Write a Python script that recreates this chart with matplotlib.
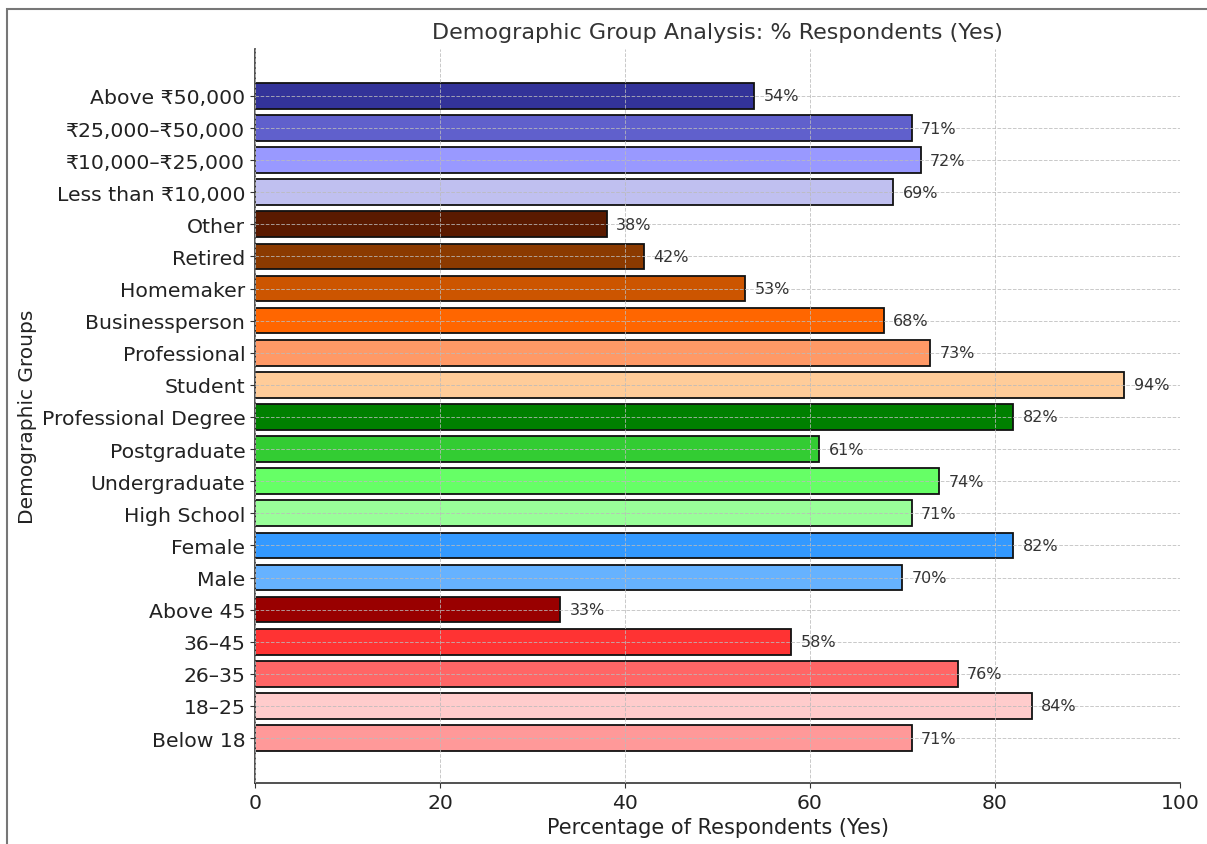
import matplotlib.pyplot as plt
from matplotlib.patches import Rectangle

# Groups listed bottom to top (barh draws index 0 at the bottom)
groups = [
    "Below 18", "18–25", "26–35", "36–45", "Above 45",
    "Male", "Female",
    "High School", "Undergraduate", "Postgraduate", "Professional Degree",
    "Student", "Professional", "Businessperson", "Homemaker", "Retired", "Other",
    "Less than ₹10,000", "₹10,000–₹25,000", "₹25,000–₹50,000", "Above ₹50,000",
]
pct_yes = [71, 84, 76, 58, 33, 70, 82, 71, 74, 61, 82, 94, 73, 68, 53, 42, 38, 69, 72, 71, 54]
colors = [
    "#ff9999", "#ffcccc", "#ff6666", "#ff3333", "#990000",
    "#66b2ff", "#3399ff",
    "#99ff99", "#66ff66", "#33cc33", "#008000",
    "#ffcc99", "#ff9966", "#ff6600", "#cc5500", "#8b3a00", "#5a1a00",
    "#c0c0f0", "#9999ff", "#6060cc", "#333399",
]

fig = plt.figure(figsize=(12.07, 8.45), dpi=100)
ax = fig.add_axes([0.2113, 0.0722, 0.7663, 0.8686])

y = range(len(groups))
bars = ax.barh(y, pct_yes, height=0.8, color=colors, edgecolor="#111111", linewidth=1.3)

for b, v in zip(bars, pct_yes):
    ax.text(v + 1, b.get_y() + b.get_height() / 2, f"{v}%", va="center", ha="left",
            fontsize=11.5, color="#333333")

ax.set_yticks(list(y))
ax.set_yticklabels(groups, fontsize=14.7, color="#222222")
ax.set_xlim(0, 100)
ax.set_ylim(-1.4, len(groups) - 1 + 1.46)
ax.set_xticks([0, 20, 40, 60, 80, 100])
ax.tick_params(axis="x", labelsize=14.7, colors="#222222")
ax.tick_params(axis="both", color="#333333")

ax.grid(True, linestyle="--", color="#bbbbbb", linewidth=0.7, alpha=0.8)
ax.set_axisbelow(False)
for s in ["top", "right"]:
    ax.spines[s].set_visible(False)
for s in ["left", "bottom"]:
    ax.spines[s].set_color("#333333")
    ax.spines[s].set_linewidth(1.2)

ax.set_title("Demographic Group Analysis: % Respondents (Yes)", fontsize=16, color="#333333", pad=8)
ax.set_xlabel("Percentage of Respondents (Yes)", fontsize=15, color="#222222", labelpad=4)
ax.set_ylabel("Demographic Groups", fontsize=14.5, color="#222222", labelpad=3)

# thin frame along the left and top of the figure
fig.patches.append(Rectangle((0.006, -0.05), 1.05, 1.038, transform=fig.transFigure,
                             fill=False, edgecolor="#777777", linewidth=1.5))

fig.savefig("out.png", dpi=100)
